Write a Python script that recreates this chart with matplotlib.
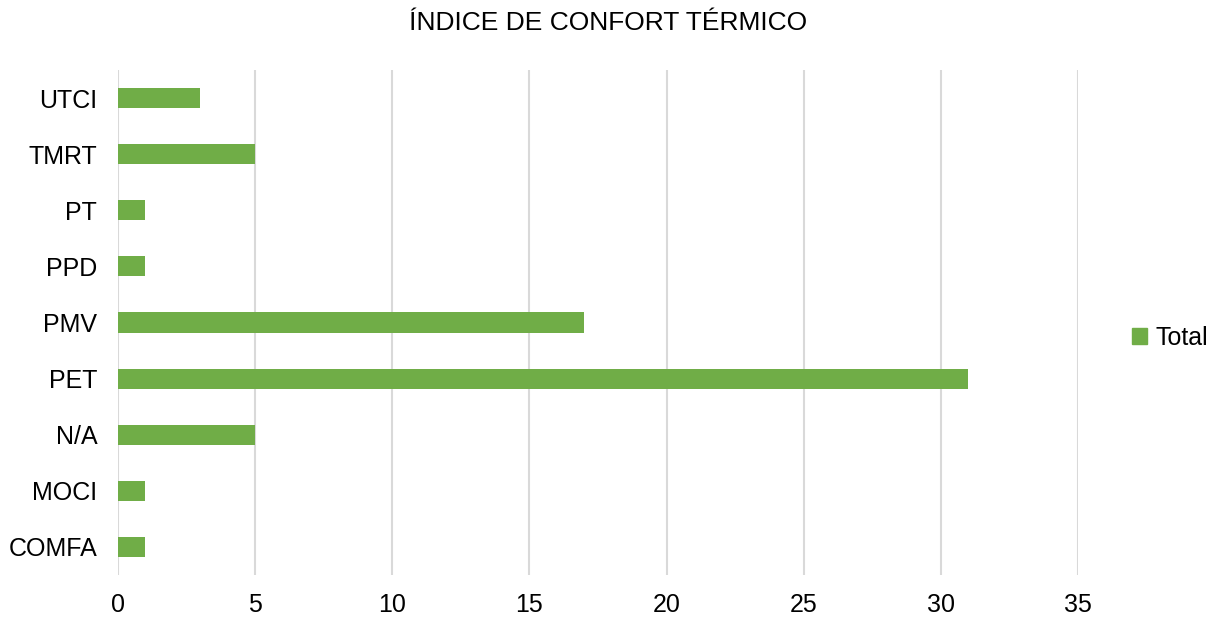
import matplotlib.pyplot as plt
from matplotlib.patches import Patch

# data
categories = ['COMFA', 'MOCI', 'N/A', 'PET', 'PMV', 'PPD', 'PT', 'TMRT', 'UTCI']
totals = [1, 1, 5, 31, 17, 1, 1, 5, 3]
x_ticks = [0, 5, 10, 15, 20, 25, 30, 35]

plt.rcParams['font.family'] = ['Liberation Sans', 'DejaVu Sans']
green = '#70AD47'

fig = plt.figure(figsize=(12.16, 6.18), dpi=100)
ax = fig.add_axes([118 / 1216, 1 - 575 / 618, (1078 - 118) / 1216, (575 - 70) / 618])

ax.barh(range(len(categories)), totals, height=0.36, color=green, zorder=3)

ax.set_xlim(0, 35)
ax.set_ylim(-0.5, len(categories) - 0.5)
ax.set_xticks(x_ticks)
ax.set_yticks(range(len(categories)))
ax.set_yticklabels(categories)
ax.tick_params(axis='both', length=0, labelsize=18, colors='black')
ax.tick_params(axis='x', pad=13)
ax.tick_params(axis='y', pad=15)
ax.grid(axis='x', color='#D9D9D9', linewidth=1.5, zorder=0)
ax.set_axisbelow(True)
for s in ax.spines.values():
    s.set_visible(False)

fig.text(0.5, 1 - 23 / 618, 'ÍNDICE DE CONFORT TÉRMICO', ha='center', va='center', fontsize=19)

fig.legend(handles=[Patch(color=green, label='Total')], loc='center left',
           bbox_to_anchor=(1122 / 1216, 1 - 338 / 618), frameon=False, fontsize=18,
           handlelength=0.6, handleheight=0.6, handletextpad=0.35, borderaxespad=0)

fig.savefig('out.png', dpi=100)
